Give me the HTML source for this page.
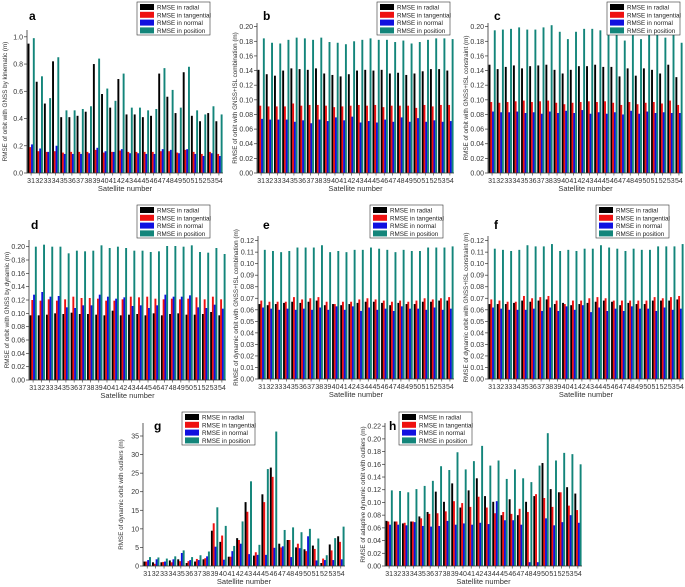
<!DOCTYPE html>
<html><head><meta charset="utf-8">
<style>
html,body{margin:0;padding:0;background:#fff;}
svg{display:block;font-family:"Liberation Sans",sans-serif;}
</style></head>
<body>
<svg id="fig" width="685" height="587" viewBox="0 0 685 587" xmlns="http://www.w3.org/2000/svg"></svg>
<script>
const categories = [31,32,33,34,35,36,37,38,39,40,41,42,43,44,45,46,47,48,49,50,51,52,53,54];
const seriesNames = ["RMSE in radial","RMSE in tangential","RMSE in normal","RMSE in position"];
const colors = ["#000000","#ee1111","#1010e0","#13857a"];

const aRadial = [0.95,0.67,0.51,0.82,0.41,0.41,0.42,0.45,0.80,0.58,0.48,0.69,0.43,0.43,0.41,0.42,0.73,0.56,0.44,0.74,0.42,0.38,0.44,0.38];
const aTang = [0.19,0.16,0.155,0.16,0.15,0.155,0.155,0.155,0.17,0.15,0.155,0.165,0.155,0.155,0.155,0.155,0.16,0.16,0.15,0.17,0.155,0.14,0.155,0.14];
const aNormal = [0.21,0.18,0.155,0.2,0.14,0.14,0.14,0.145,0.185,0.16,0.155,0.175,0.145,0.145,0.14,0.14,0.175,0.17,0.145,0.175,0.14,0.125,0.145,0.125];
const aPos = [0.99,0.71,0.55,0.85,0.46,0.46,0.47,0.49,0.84,0.62,0.53,0.73,0.48,0.48,0.46,0.47,0.77,0.61,0.48,0.78,0.46,0.43,0.49,0.43];

const bRadial = [.141,.135,.133,.140,.143,.142,.141,.143,.136,.134,.132,.135,.140,.141,.140,.141,.136,.137,.134,.136,.139,.142,.142,.140];
const bTang = [.092,.091,.091,.091,.095,.092,.093,.093,.092,.090,.091,.092,.093,.092,.093,.090,.092,.092,.092,.089,.093,.091,.093,.093];
const bNormal = [.074,.073,.073,.073,.070,.072,.068,.073,.071,.076,.072,.077,.069,.071,.069,.073,.070,.076,.070,.075,.070,.072,.070,.071];
const bPos = [.184,.178,.177,.182,.185,.184,.182,.185,.179,.178,.176,.180,.182,.184,.182,.182,.179,.181,.177,.179,.182,.184,.184,.183];

const cRadial = [.148,.142,.145,.147,.143,.146,.147,.148,.141,.136,.141,.146,.146,.148,.145,.145,.132,.143,.133,.143,.141,.136,.148,.131];
const cTang = [.097,.096,.097,.098,.099,.097,.098,.099,.096,.094,.096,.097,.098,.097,.098,.096,.093,.097,.094,.096,.097,.095,.099,.093];
const cNormal = [.084,.083,.083,.084,.082,.083,.081,.084,.082,.085,.082,.086,.081,.083,.081,.083,.080,.085,.081,.084,.082,.083,.082,.082];
const cPos = [.195,.196,.197,.199,.196,.196,.199,.202,.193,.183,.193,.197,.197,.195,.193,.196,.181,.196,.183,.193,.190,.185,.200,.178];

const dRadial = [.097,.097,.098,.100,.099,.101,.099,.099,.098,.097,.104,.097,.098,.099,.097,.100,.097,.099,.100,.098,.098,.099,.102,.097];
const dTang = [.120,.119,.121,.119,.121,.125,.123,.123,.122,.119,.119,.121,.125,.124,.125,.122,.121,.122,.121,.122,.124,.121,.125,.121];
const dNormal = [.128,.132,.125,.126,.109,.108,.112,.112,.128,.125,.122,.124,.111,.112,.108,.112,.128,.125,.125,.127,.109,.108,.113,.107];
const dPos = [.200,.203,.200,.200,.190,.194,.193,.194,.202,.198,.200,.198,.194,.194,.192,.193,.201,.201,.200,.202,.192,.191,.198,.189];

const eRadial = [.065,.064,.065,.066,.067,.066,.067,.068,.064,.065,.064,.065,.066,.067,.067,.066,.064,.066,.065,.065,.067,.067,.068,.068];
const eTang = [.068,.067,.067,.067,.071,.069,.070,.071,.067,.065,.067,.067,.069,.070,.069,.068,.067,.068,.067,.068,.070,.069,.070,.071];
const eNormal = [.062,.061,.060,.061,.060,.061,.060,.062,.060,.063,.060,.063,.059,.062,.060,.061,.059,.063,.061,.061,.060,.062,.060,.061];
const ePos = [.112,.111,.110,.111,.114,.114,.114,.116,.110,.111,.110,.112,.112,.114,.113,.112,.110,.112,.111,.111,.114,.114,.114,.115];

const fRadial = [.065,.065,.065,.066,.068,.067,.068,.069,.065,.066,.064,.065,.066,.067,.068,.067,.064,.066,.065,.065,.068,.068,.068,.069];
const fTang = [.069,.068,.067,.067,.072,.070,.071,.072,.068,.065,.068,.068,.070,.071,.070,.068,.068,.068,.068,.068,.071,.070,.071,.072];
const fNormal = [.062,.061,.060,.060,.060,.061,.059,.062,.059,.063,.060,.064,.058,.062,.059,.061,.059,.063,.061,.061,.059,.062,.060,.061];
const fPos = [.113,.112,.111,.112,.116,.115,.115,.117,.111,.112,.111,.113,.113,.116,.114,.113,.111,.113,.112,.112,.115,.115,.115,.117];

const gRadial = [1.2,1,1,1.5,1.8,0.8,1.2,1.8,9.5,6.5,2.5,7.5,17.2,2.8,19.3,26.5,6,7,5,4.5,5.5,0.8,5.8,8];
const gTang = [1.2,0.6,1.1,1,1.3,1.3,1.9,2.1,11.5,8.2,2.5,7,14.6,3.7,17.2,24,5,7,6,4,4.6,2,4.2,6.5];
const gNormal = [1.6,1.8,1.2,1.8,3.5,1.6,1.6,2.6,5.2,1.7,4,6,3.2,3,3,4.9,5.3,2.4,4.8,8,1.5,1.6,1.6,1.8];
const gPos = [2.4,2.3,2,2.6,4.2,2.4,2.9,3.9,15.8,10.8,5.4,12,22.8,5.7,26.1,36.2,9.7,10.4,9.1,10,7.4,2.9,7.5,10.6];

const hRadial = [.071,.070,.067,.070,.078,.085,.117,.101,.130,.092,.119,.138,.110,.101,.080,.105,.080,.101,.110,.162,.121,.116,.124,.114];
const hTang = [.070,.070,.068,.070,.075,.082,.083,.086,.102,.099,.093,.109,.092,.083,.085,.082,.090,.085,.113,.107,.093,.116,.095,.088];
const hNormal = [.065,.065,.064,.069,.063,.062,.063,.071,.065,.067,.065,.068,.066,.102,.072,.072,.065,.006,.006,.075,.064,.069,.080,.068];
const hPos = [.119,.118,.116,.121,.126,.134,.157,.151,.179,.152,.165,.189,.158,.166,.137,.152,.138,.132,.158,.209,.166,.178,.176,.160];

const ticksA = ["0.0","0.2","0.4","0.6","0.8","1.0"];
const ticks20 = ["0.00","0.02","0.04","0.06","0.08","0.10","0.12","0.14","0.16","0.18","0.20"];
const ticks12 = ["0.00","0.01","0.02","0.03","0.04","0.05","0.06","0.07","0.08","0.09","0.10","0.11","0.12"];
const ticksG = ["0","5","10","15","20","25","30","35"];
const ticks22 = ["0.00","0.02","0.04","0.06","0.08","0.10","0.12","0.14","0.16","0.18","0.20","0.22"];

const panels = [
 {id:"a",x0:27,x1:223,y0:173,max:1.05,ticks:ticksA,data:[aRadial,aTang,aNormal,aPos],title:"RMSE of orbit with GNSS by kinematic (m)",leg:[137,2],lab:[29,20]},
 {id:"b",x0:257,x1:454,y0:173,max:0.205,ticks:ticks20,data:[bRadial,bTang,bNormal,bPos],title:"RMSE of orbit with GNSS+ISL combination (m)",leg:[377,2],lab:[263,20]},
 {id:"c",x0:488,x1:683,y0:173,max:0.205,ticks:ticks20,data:[cRadial,cTang,cNormal,cPos],title:"RMSE of orbit with GNSS+ISL constraint (m)",leg:[607,2],lab:[494,20]},
 {id:"d",x0:29,x1:226,y0:380,max:0.21,ticks:ticks20,data:[dRadial,dTang,dNormal,dPos],title:"RMSE of orbit with GNSS by dynamic (m)",leg:[137,205],lab:[31,229]},
 {id:"e",x0:258,x1:454,y0:379,max:0.124,ticks:ticks12,data:[eRadial,eTang,eNormal,ePos],title:"RMSE of dynamic orbit with GNSS+ISL combination (m)",leg:[370,205],lab:[263,229]},
 {id:"f",x0:488,x1:684,y0:379,max:0.124,ticks:ticks12,data:[fRadial,fTang,fNormal,fPos],title:"RMSE of dynamic orbit with GNSS+ISL constraint (m)",leg:[596,205],lab:[494,229]},
 {id:"g",x0:143,x1:345,y0:566,max:38.5,ticks:ticksG,data:[gRadial,gTang,gNormal,gPos],title:"RMSE of dynamic orbit with outliers (m)",leg:[182,412],lab:[154,430]},
 {id:"h",x0:385,x1:582,y0:566,max:0.225,ticks:ticks22,data:[hRadial,hTang,hNormal,hPos],title:"RMSE of adaptive dynamic orbit with outliers (m)",leg:[399,412],lab:[389,430]}
];
const topY = {a:30,b:23,c:23,d:240,e:236,f:236,g:423,h:423};
const NS="http://www.w3.org/2000/svg";
const svg=document.getElementById("fig");
function mk(tag,attrs,parent,text){const e=document.createElementNS(NS,tag);for(const k in attrs)e.setAttribute(k,attrs[k]);if(text!==undefined)e.textContent=text;parent.appendChild(e);return e;}

panels.forEach(p=>{
  const g=mk("g",{},svg);
  
  
  const top=topY[p.id];
  const yS=v=>p.y0-(v/p.max)*(p.y0-top);
  const n=categories.length;
  const gw=(p.x1-p.x0)/n;
  const xS=i=>p.x0+gw*i;
  const bw=gw*0.215;
  p.data.forEach((arr,s)=>{
    arr.forEach((v,i)=>{
      const x=xS(i)+gw*0.07+s*bw;
      const r=mk("rect",{x:x.toFixed(2),y:yS(v).toFixed(2),width:(bw+0.15).toFixed(2),height:(p.y0-yS(v)).toFixed(2),fill:colors[s]},g);
      
      
    });
  });
  const ax=mk("path",{d:`M${p.x0},${top} V${p.y0} H${p.x1}`,stroke:"#333",fill:"none","stroke-width":0.8},g);
  
  
  const step=parseFloat(p.ticks[1]);
  p.ticks.forEach((t,k)=>{
    const v=k*step;const y=yS(v);
    mk("line",{x1:p.x0-3,x2:p.x0,y1:y,y2:y,stroke:"#333","stroke-width":0.7},g);
    const tx=mk("text",{x:p.x0-4,y:y+2.5,"font-size":7,"text-anchor":"end",fill:"#333"},g,t);
    
    
  });
  categories.forEach((c,i)=>{
    const x=xS(i)+gw/2;
    mk("line",{x1:x,x2:x,y1:p.y0,y2:p.y0+2.5,stroke:"#333","stroke-width":0.6},g);
    const tx=mk("text",{x:x,y:p.y0+10,"font-size":7,"text-anchor":"middle",fill:"#333"},g,String(c));
    
    
  });
  const xt=mk("text",{x:(p.x0+p.x1)/2,y:p.y0+18,"font-size":7.5,"text-anchor":"middle",fill:"#333"},g,"Satellite number");
  
  
  const ty=(top+p.y0)/2, txx=p.x0-20;
  const yt=mk("text",{x:txx,y:ty,"font-size":6.3,"text-anchor":"middle",fill:"#333",transform:`rotate(-90 ${txx} ${ty})`},g,p.title);
  
  
  const lb=mk("text",{x:p.lab[0],y:p.lab[1],"font-size":12,"font-weight":"bold",fill:"#000"},g,p.id);
  
  
  const lg=mk("g",{},g);
  
  
  const [lx,ly]=p.leg;
  mk("rect",{x:lx,y:ly,width:73,height:33,fill:"#fff",stroke:"#333","stroke-width":0.6},lg);
  seriesNames.forEach((nm,s)=>{
    const yy=ly+2+s*7.8;
    mk("rect",{x:lx+3,y:yy,width:14,height:6,fill:colors[s]},lg);
    const t=mk("text",{x:lx+20,y:yy+5.5,"font-size":6.3,fill:"#222"},lg,nm);
    
    
  });
});
</script>
</body></html>
